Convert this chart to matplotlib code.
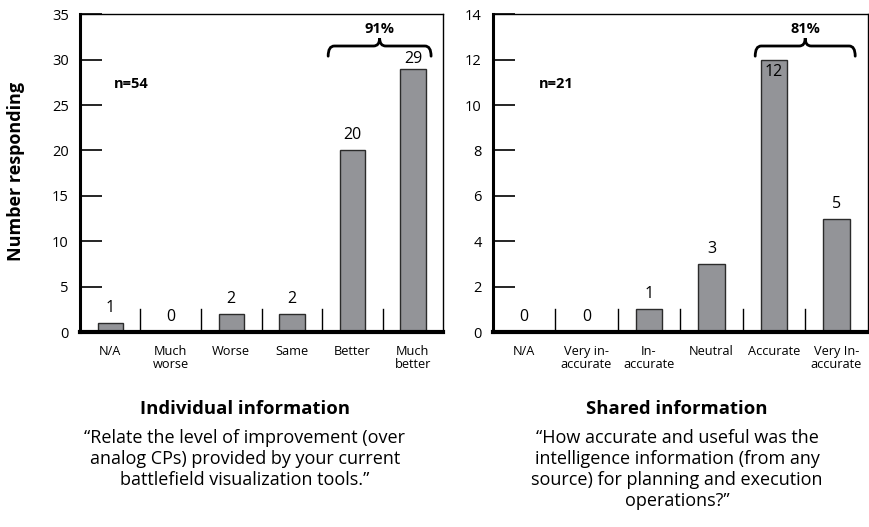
import numpy as np
import matplotlib
matplotlib.use('Agg')
import matplotlib.pyplot as plt
from matplotlib.path import Path
from matplotlib.patches import PathPatch
import matplotlib.transforms as mtransforms

plt.rcParams['font.family'] = ['Open Sans', 'DejaVu Sans']

# data
left_cats = ['N/A', 'Much\nworse', 'Worse', 'Same', 'Better', 'Much\nbetter']
left_vals = [1, 0, 2, 2, 20, 29]
right_cats = ['N/A', 'Very in-\naccurate', 'In-\naccurate', 'Neutral', 'Accurate', 'Very In-\naccurate']
right_vals = [0, 0, 1, 3, 12, 5]

left_title = 'Individual information'
left_quote = '\u201cRelate the level of improvement (over\nanalog CPs) provided by your current\nbattlefield visualization tools.\u201d'
right_title = 'Shared information'
right_quote = '\u201cHow accurate and useful was the\nintelligence information (from any\nsource) for planning and execution\noperations?\u201d'

bar_color = '#939498'
edge_color = '#2b2b2b'

fig = plt.figure(figsize=(8.69, 5.27), dpi=100)
ax1 = fig.add_axes([0.092, 0.370, 0.418, 0.603])
ax2 = fig.add_axes([0.567, 0.370, 0.4315, 0.603])


def brace(ax, x0, x1, y_low, y_mid, y_peak):
    xc = (x0 + x1) / 2
    r = (x1 - x0) * 0.06
    verts = [(x0, y_low), (x0, y_mid), (x0 + r, y_mid),
             (xc - r, y_mid), (xc, y_mid), (xc, y_peak),
             (xc, y_mid), (xc + r, y_mid),
             (x1 - r, y_mid), (x1, y_mid), (x1, y_low)]
    codes = [Path.MOVETO, Path.CURVE3, Path.CURVE3,
             Path.LINETO, Path.CURVE3, Path.CURVE3,
             Path.CURVE3, Path.CURVE3,
             Path.LINETO, Path.CURVE3, Path.CURVE3]
    ax.add_patch(PathPatch(Path(verts, codes), fill=False, lw=2.0,
                           edgecolor='black', capstyle='round', clip_on=False))


def panel(ax, cats, vals, ymax, step, nlabel, nx, pct, span, inside_idx=None):
    x = np.arange(len(cats))
    ax.bar(x, vals, width=0.42, color=bar_color, edgecolor=edge_color, linewidth=1.0, zorder=2)
    ax.set_xlim(-0.5, len(cats) - 0.5)
    ax.set_ylim(0, ymax)
    ax.set_yticks(np.arange(0, ymax + 1, step))
    ax.tick_params(axis='y', direction='in', length=16, width=1.2, pad=8,
                   labelsize=10.5, colors='black')
    ax.set_xticks(x)
    ax.set_xticklabels(cats, fontsize=9.2, linespacing=1.0)
    ax.tick_params(axis='x', length=0, pad=9)
    for s in ['top', 'right']:
        ax.spines[s].set_linewidth(1.0)
    ax.spines['left'].set_linewidth(2.2)
    ax.spines['bottom'].set_linewidth(3.0)
    # bin separators at the bottom
    trans = mtransforms.blended_transform_factory(ax.transData, ax.transAxes)
    for b in x[:-1] + 0.5:
        ax.plot([b, b], [0, 0.072], color='black', lw=1.0, transform=trans, zorder=1)
    # value labels
    for i, v in enumerate(vals):
        if i == inside_idx:
            ax.annotate(str(v), (i, v), xytext=(0, -3), textcoords='offset points',
                        ha='center', va='top', fontsize=11.5)
        else:
            off = 1.5 if v > ymax * 0.8 else 5
            ax.annotate(str(v), (i, v), xytext=(0, off), textcoords='offset points',
                        ha='center', va='bottom', fontsize=11.5)
    ax.text(nx, 0.78, nlabel, transform=ax.transAxes,
            ha='center', va='center', fontsize=10.5, fontweight='bold')
    x0, x1 = span
    brace(ax, x0, x1, ymax * 0.868, ymax * 0.90, ymax * 0.925)
    ax.text((x0 + x1) / 2, ymax * 0.955, pct, ha='center', va='center',
            fontsize=10.5, fontweight='bold')


panel(ax1, left_cats, left_vals, 35, 5, 'n=54', 0.14, '91%', (3.6, 5.3))
panel(ax2, right_cats, right_vals, 14, 2, 'n=21', 0.17, '81%', (3.7, 5.3), inside_idx=4)

fig.text(0.018, 0.675, 'Number responding', rotation=90, ha='center', va='center',
         fontsize=13, fontweight='bold')

fig.text(245 / 869, 1 - 409 / 527, left_title, ha='center', va='center',
         fontsize=13.3, fontweight='bold')
fig.text(245 / 869, 1 - 429 / 527, left_quote, ha='center', va='top',
         fontsize=13, linespacing=1.22)
fig.text(677 / 869, 1 - 409 / 527, right_title, ha='center', va='center',
         fontsize=13.3, fontweight='bold')
fig.text(677 / 869, 1 - 429 / 527, right_quote, ha='center', va='top',
         fontsize=13, linespacing=1.22)

fig.savefig('out.png', dpi=100)
